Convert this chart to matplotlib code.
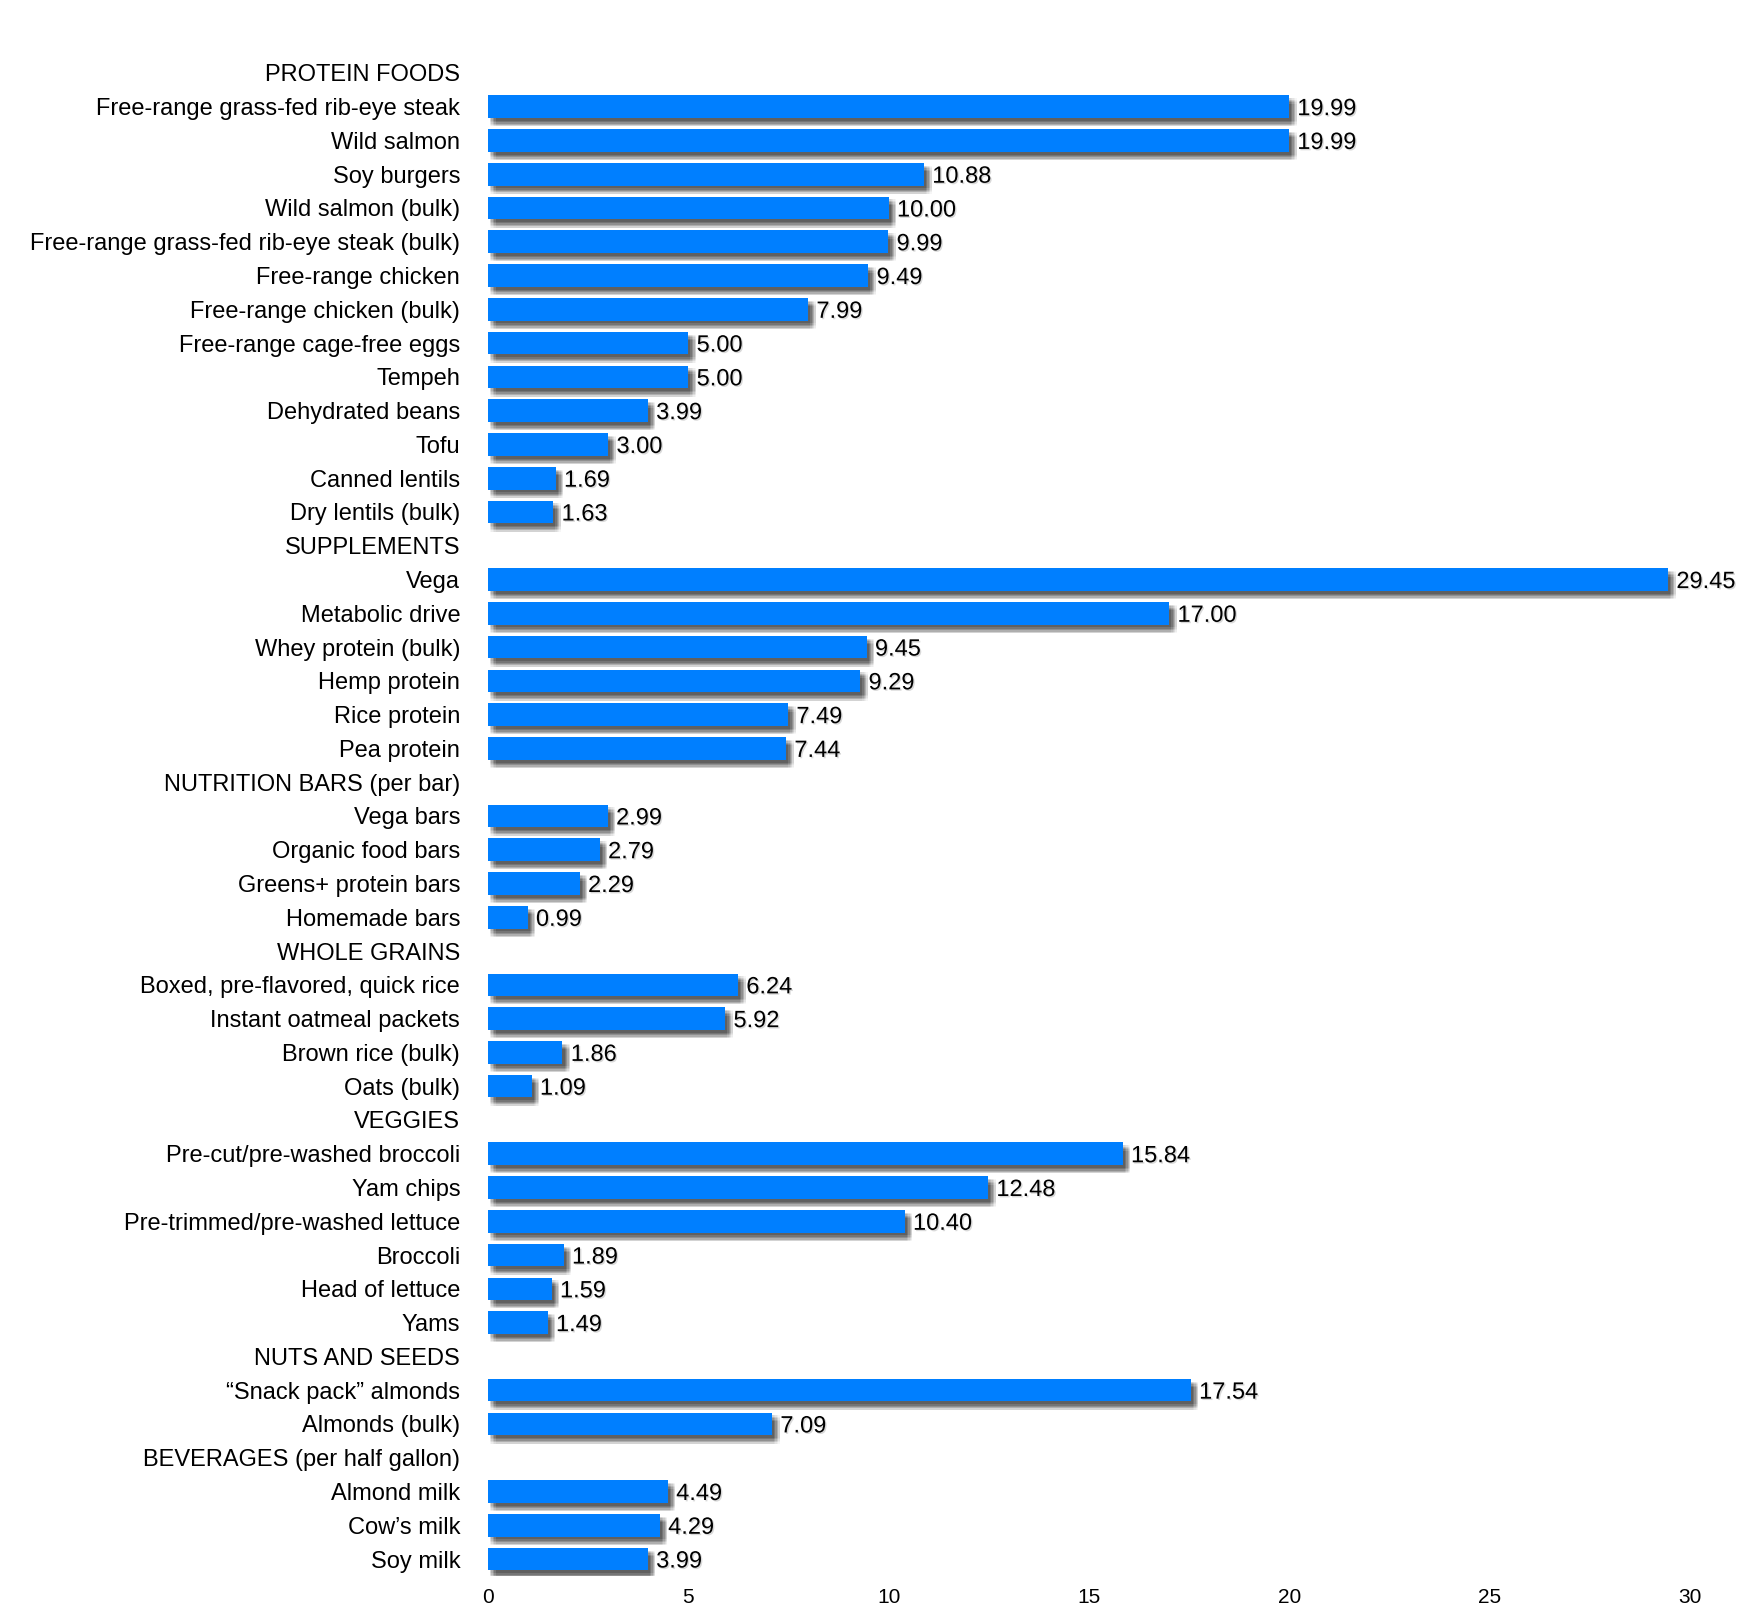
import numpy as np
import matplotlib.pyplot as plt
import matplotlib.patheffects as pe

plt.rcParams['font.family'] = ['Liberation Sans', 'DejaVu Sans']

# one row per label; None means a section header row (no bar)
labels = [
    "PROTEIN FOODS",
    "Free-range grass-fed rib-eye steak", "Wild salmon", "Soy burgers",
    "Wild salmon (bulk)", "Free-range grass-fed rib-eye steak (bulk)",
    "Free-range chicken", "Free-range chicken (bulk)", "Free-range cage-free eggs",
    "Tempeh", "Dehydrated beans", "Tofu", "Canned lentils", "Dry lentils (bulk)",
    "SUPPLEMENTS",
    "Vega", "Metabolic drive", "Whey protein (bulk)", "Hemp protein",
    "Rice protein", "Pea protein",
    "NUTRITION BARS (per bar)",
    "Vega bars", "Organic food bars", "Greens+ protein bars", "Homemade bars",
    "WHOLE GRAINS",
    "Boxed, pre-flavored, quick rice", "Instant oatmeal packets",
    "Brown rice (bulk)", "Oats (bulk)",
    "VEGGIES",
    "Pre-cut/pre-washed broccoli", "Yam chips", "Pre-trimmed/pre-washed lettuce",
    "Broccoli", "Head of lettuce", "Yams",
    "NUTS AND SEEDS",
    "\u201cSnack pack\u201d almonds", "Almonds (bulk)",
    "BEVERAGES (per half gallon)",
    "Almond milk", "Cow\u2019s milk", "Soy milk",
]
prices = [
    None,
    19.99, 19.99, 10.88, 10.00, 9.99, 9.49, 7.99, 5.00, 5.00, 3.99, 3.00, 1.69, 1.63,
    None,
    29.45, 17.00, 9.45, 9.29, 7.49, 7.44,
    None,
    2.99, 2.79, 2.29, 0.99,
    None,
    6.24, 5.92, 1.86, 1.09,
    None,
    15.84, 12.48, 10.40, 1.89, 1.59, 1.49,
    None,
    17.54, 7.09,
    None,
    4.49, 4.29, 3.99,
]
xticks = [0, 5, 10, 15, 20, 25, 30]

fig = plt.figure(figsize=(17.57, 16.23), dpi=100)
ax = fig.add_axes([0.2777, 0.029, 0.6842, 0.9365])

ypos = np.arange(len(labels))
# fake blurred drop shadow: a stack of faint offset copies
offs = [(dx, dy) for dx in (1.5, 2.5, 3.5, 4.5, 5.5) for dy in (2, 3, 4, 5, 6)]
shadow = [pe.SimplePatchShadow(offset=(dx, -dy), shadow_rgbFace='black', alpha=0.035)
          for dx, dy in offs]
for y, v in zip(ypos, prices):
    if v is None:
        continue
    ax.barh(y, v, height=0.67, color='#007fff', zorder=3,
            path_effects=shadow + [pe.Normal()])
    ax.annotate(f"{v:.2f}", (v, y), xytext=(6, 0), textcoords='offset points',
                va='center_baseline', ha='left', fontsize=17, color='black',
                path_effects=[pe.SimplePatchShadow(offset=(1, -1), alpha=0.15), pe.Normal()])

ax.set_yticks(ypos)
ax.set_yticklabels(labels, fontsize=17)
for t in ax.get_yticklabels():
    t.set_verticalalignment('center_baseline')
ax.set_xticks(xticks)
ax.set_xticklabels([str(t) for t in xticks], fontsize=15)
ax.set_xlim(0, 30)
ax.set_ylim(len(labels) - 0.5, -0.5)
ax.tick_params(axis='y', length=0, pad=20)
ax.tick_params(axis='x', length=0, pad=9)
for s in ax.spines.values():
    s.set_visible(False)

fig.savefig('out.png', dpi=100)
